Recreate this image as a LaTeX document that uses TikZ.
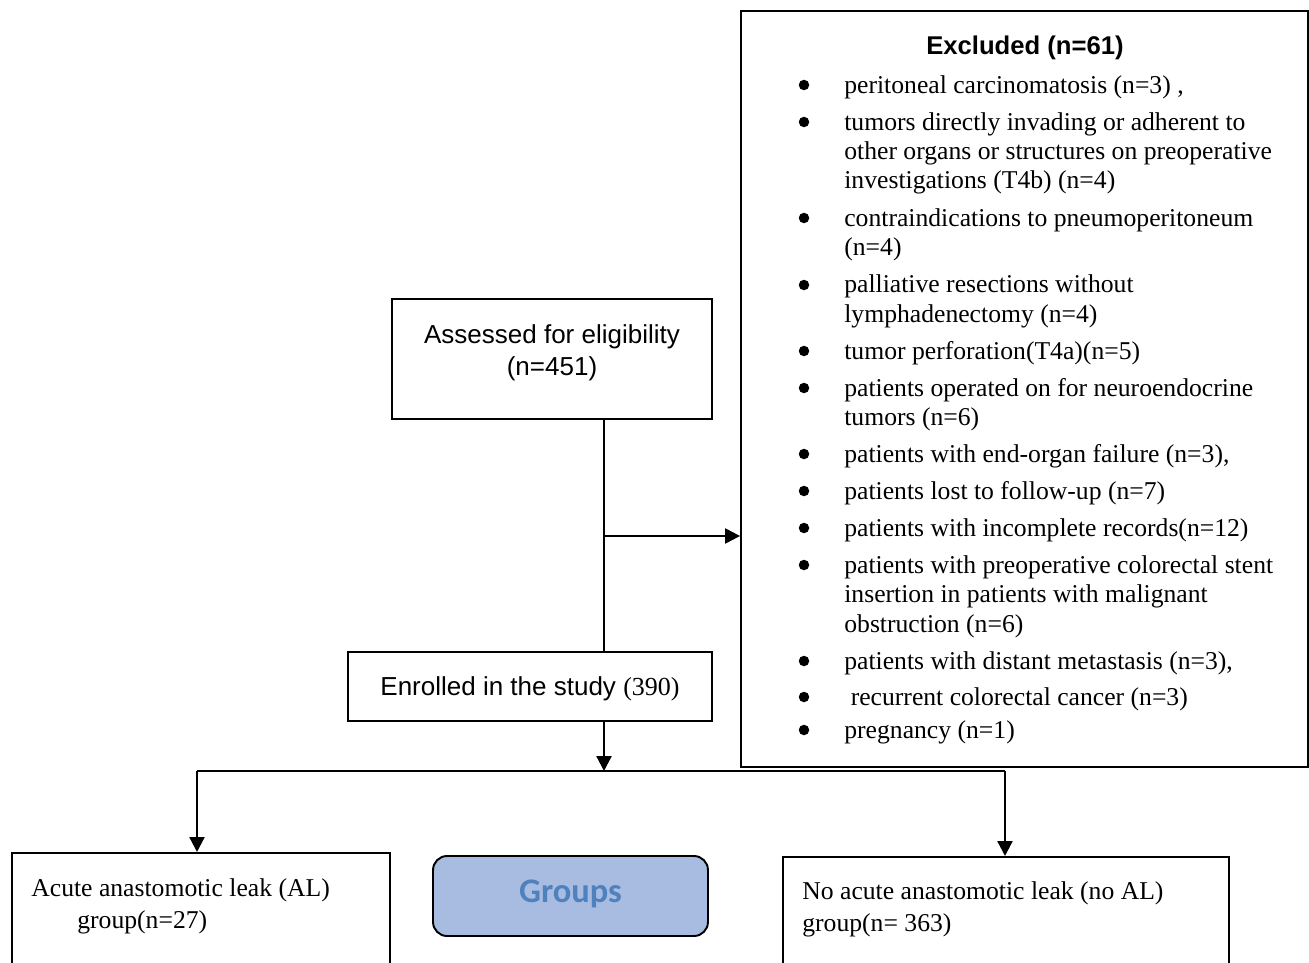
\documentclass[tikz,border=0pt]{standalone}
\usepackage{fontspec}
\usepackage{tikz}
\usetikzlibrary{arrows.meta}
\setmainfont{Liberation Serif}
\newfontfamily\arialfont{Liberation Sans}
\newfontfamily\calibrifont{Carlito}
\definecolor{grpfill}{HTML}{A8BCE2}
\definecolor{grptext}{HTML}{4F81BD}
\tikzset{
	box/.style={draw, line width=1.1pt, inner sep=0pt},
	serif/.style={font=\fontsize{14.6}{16.7}\selectfont, inner sep=0pt, align=left},
	sans/.style={font=\arialfont\fontsize{14.8}{18.2}\selectfont, inner sep=0pt, align=center},
	bullet/.style={circle, fill, inner sep=0pt, minimum size=0.21cm},
	flow/.style={line width=1.3pt, -{Triangle[length=8.5pt,width=8.5pt]}},
	link/.style={line width=1.3pt}
}

\begin{document}
\begin{tikzpicture}[x=0.02cm, y=-0.02cm]
			\useasboundingbox (0,0) rectangle (1309,963);
			\clip (0,0) rectangle (1309,963);
			\node[box, minimum width=6.4cm, minimum height=2.4cm] (assess) at (552,359) {};
			\node[sans] (assesstxt) at (552,353) {Assessed for eligibility\\(n=451)};
			\node[box, minimum width=7.28cm, minimum height=1.38cm] (enrol) at (530,686.5) {};
			\node[sans] (enroltxt) at (530,689) {Enrolled in the study {\rmfamily (390)}};
			\node[box, minimum width=11.34cm, minimum height=15.12cm] (ex) at (1024.5,389) {};
			\node[sans, font=\arialfont\bfseries\fontsize{14.6}{18}\selectfont] (extitle) at (1025,48) {Excluded (n=61)};
			\foreach \yb/\ym/\t [count=\i] in {
				85/85/{peritoneal carcinomatosis (n=3) ,},
				122/151.5/{tumors directly invading or adherent to\\other organs or structures on preoperative\\investigations (T4b) (n=4)},
				218/233/{contraindications to pneumoperitoneum\\(n=4)},
				285/299.5/{palliative resections without\\lymphadenectomy (n=4)},
				351/351/{tumor perforation(T4a)(n=5)},
				388/402.5/{patients operated on for neuroendocrine\\tumors (n=6)},
				454/454/{patients with end-organ failure (n=3),},
				491/491/{patients lost to follow-up (n=7)},
				528/528/{patients with incomplete records(n=12)},
				565/594.5/{patients with preoperative colorectal stent\\insertion in patients with malignant\\obstruction (n=6)},
				661/661/{patients with distant metastasis (n=3),},
				697/697/{\ recurrent colorectal cancer (n=3)},
				730/730/{pregnancy (n=1)}}{
				\node[bullet] (b\i) at (804,\yb) {};
				\node[serif, anchor=west] (it\i) at (844,\ym+2) {\t};
			}
			\node[box, anchor=north west, minimum width=7.56cm, minimum height=3cm] (al) at (11,852) {};
			\node[serif, anchor=west, font=\fontsize{14.6}{18.1}\selectfont] (altxt) at (31,906) {Acute anastomotic leak (AL)\\\hspace*{0.92cm}group(n=27)};
			\node[box, rounded corners=0.28cm, fill=grpfill, minimum width=5.5cm, minimum height=1.6cm] (groups) at (570.5,896) {};
			\node[font=\calibrifont\bfseries\fontsize{19.6}{22}\selectfont, text=grptext, inner sep=0pt] (grptxt) at (570.5,894) {Groups};
			\node[box, anchor=north west, minimum width=8.92cm, minimum height=3cm] (noal) at (782,856) {};
			\node[serif, anchor=west, font=\fontsize{14.6}{18.1}\selectfont] (noaltxt) at (802,909) {No acute anastomotic leak (no AL)\\group(n= 363)};
			\coordinate (spine) at (604,536);
			\coordinate (barL) at (197,771);
			\coordinate (barR) at (1005,771);
			\draw[link] (spine |- assess.south) -- (spine |- enrol.north);
			\draw[flow] (spine) -- (spine -| ex.west);
			\draw[flow] (spine |- enrol.south) -- (spine |- barL);
			\draw[link] (barL) -- (barR);
			\draw[flow] (barL) -- (barL |- al.north);
			\draw[flow] (barR) -- (barR |- noal.north);
		\end{tikzpicture}
\end{document}
